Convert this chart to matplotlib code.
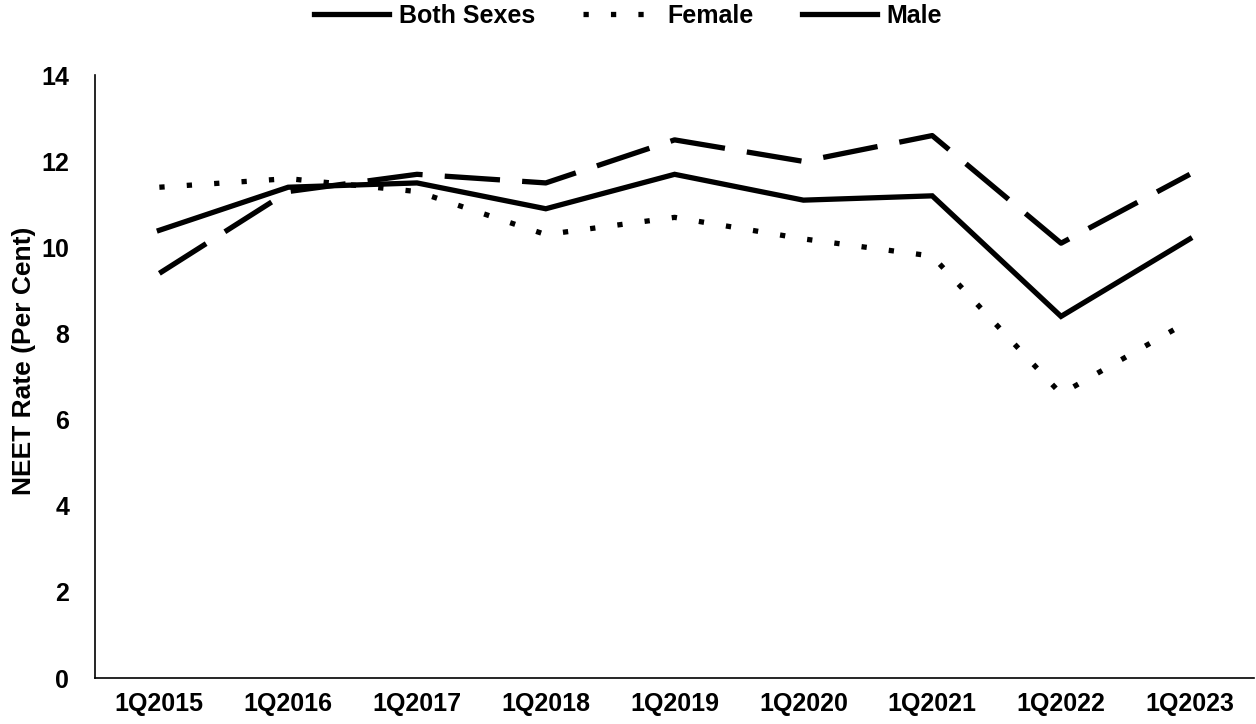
import matplotlib.pyplot as plt
from matplotlib.lines import Line2D

quarters = ['1Q2015', '1Q2016', '1Q2017', '1Q2018', '1Q2019',
            '1Q2020', '1Q2021', '1Q2022', '1Q2023']
both_sexes = [10.4, 11.4, 11.5, 10.9, 11.7, 11.1, 11.2, 8.4, 10.2]
female = [11.4, 11.6, 11.3, 10.3, 10.7, 10.2, 9.8, 6.6, 8.3]
male = [9.4, 11.3, 11.7, 11.5, 12.5, 12.0, 12.6, 10.1, 11.7]

plt.rcParams['font.family'] = ['Liberation Sans', 'DejaVu Sans']
plt.rcParams['font.weight'] = 'bold'

fig = plt.figure(figsize=(12.56, 7.24), dpi=100)
ax = fig.add_axes([0.0756, 0.0635, 0.923, 0.8325])

lw = 3.8
dots = (0, (1, 4.2))
dashes = (0, (10.5, 4.2))
x = range(len(quarters))
ax.plot(x, both_sexes, color='black', lw=lw, solid_joinstyle='miter')
ax.plot(x, female, color='black', lw=lw, linestyle=dots, dash_capstyle='butt')
ax.plot(x, male, color='black', lw=lw, linestyle=dashes, dash_capstyle='butt')

ax.set_xlim(-0.5, len(quarters) - 0.5)
ax.set_ylim(0, 14)
ax.set_yticks(range(0, 15, 2))
ax.set_xticks(list(x))
ax.set_xticklabels(quarters)
ax.tick_params(axis='both', length=0, labelsize=18)
ax.tick_params(axis='x', pad=10)
ax.tick_params(axis='y', pad=18.5)
for lab in ax.get_xticklabels() + ax.get_yticklabels():
    lab.set_fontweight('bold')
ax.spines['top'].set_visible(False)
ax.spines['right'].set_visible(False)
ax.spines['left'].set_linewidth(1.2)
ax.spines['bottom'].set_linewidth(1.2)
ax.set_ylabel('NEET Rate (Per Cent)', fontsize=19, fontweight='bold')
ax.yaxis.set_label_coords(-0.051, 0.526)

# the legend in the source shows Male as a solid line
handles = [
    Line2D([], [], color='black', lw=lw),
    Line2D([], [], color='black', lw=lw, linestyle=dots, dash_capstyle='butt'),
    Line2D([], [], color='black', lw=lw),
]
fig.legend(handles, ['Both Sexes', 'Female', 'Male'], loc='center',
           bbox_to_anchor=(0.5, 0.978), ncol=3, frameon=False,
           prop={'size': 18, 'weight': 'bold'}, handlelength=3.0,
           columnspacing=1.9, handletextpad=0.4, borderpad=0)

fig.savefig('out.png', dpi=100)
